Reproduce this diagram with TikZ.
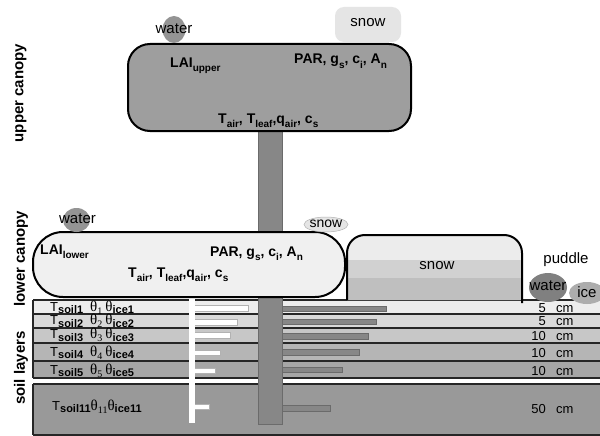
\documentclass[tikz,border=0pt]{standalone}
\usepackage{fontspec}
\setmainfont{Liberation Sans}
\newfontfamily\thfont{Liberation Serif}
\usetikzlibrary{shapes.geometric}
\newcommand{\dn}[1]{\raisebox{-0.3em}{\fontsize{10}{10}\selectfont #1}}
\newcommand{\sdn}[1]{\raisebox{-0.22em}{\bfseries\fontsize{11}{11}\selectfont #1}}
\newcommand{\thx}[1]{{\thfont\fontsize{15}{15}\selectfont θ\raisebox{-0.2em}{\fontsize{10}{10}\selectfont #1}}}
\newcommand{\thi}{{\thfont\fontsize{15}{15}\selectfont θ}}
\definecolor{upbox}{gray}{0.62}
\definecolor{lowbox}{gray}{0.94}
\definecolor{trunkc}{gray}{0.53}
\definecolor{trunkedge}{gray}{0.42}
\definecolor{waterc}{gray}{0.58}
\definecolor{snowc}{gray}{0.9}
\definecolor{snowtop}{gray}{0.925}
\definecolor{snowmid}{gray}{0.82}
\definecolor{snowbot}{gray}{0.75}
\definecolor{puddlew}{gray}{0.5}
\definecolor{icec}{gray}{0.68}
\definecolor{Lone}{gray}{0.93}
\definecolor{Ltwo}{gray}{0.85}
\definecolor{Lthree}{gray}{0.78}
\definecolor{Lfour}{gray}{0.71}
\definecolor{Lfive}{gray}{0.65}
\definecolor{Leleven}{gray}{0.6}
\begin{document}
\begin{tikzpicture}[x=1pt,y=-1pt,
  lbl/.style={font=\fontsize{15}{15}\selectfont, inner sep=0pt},
  blab/.style={font=\bfseries\fontsize{14}{14}\selectfont, inner sep=0pt, anchor=base west},
  soillab/.style={font=\fontsize{13}{13}\selectfont, inner sep=0pt, anchor=base west},
  depth/.style={font=\fontsize{13}{13}\selectfont, inner sep=0pt, anchor=base east},
  unit/.style={font=\fontsize{13}{13}\selectfont, inner sep=0pt, anchor=base west},
  side/.style={font=\bfseries\fontsize{15}{15}\selectfont, rotate=90, inner sep=0pt},
  blob/.style={ellipse, inner sep=0pt},
  rootbar/.style={fill=white, draw=gray!60, line width=0.6pt},
  trunkbar/.style={fill=trunkc, draw=trunkedge, line width=0.6pt},
  sep/.style={line width=2pt, draw=black!85}
]
\useasboundingbox (0,0) rectangle (600,436);
\fill[white] (0,0) rectangle (600,436);

% soil layers
\fill[Lone] (33,300) rectangle (600,314);
\fill[Ltwo] (33,314) rectangle (600,328);
\fill[Lthree] (33,328) rectangle (600,343);
\fill[Lfour] (33,343) rectangle (600,361);
\fill[Lfive] (33,361) rectangle (600,378);
\fill[Leleven] (33,384) rectangle (600,436);
\foreach \yy in {300,314,328,343,361,378,384,435}
  \draw[sep] (33,\yy) -- (600,\yy);
\draw[sep] (33,300) -- (33,378);
\draw[sep] (33,384) -- (33,435);

% root distribution
\draw[rootbar] (194,305) rectangle (248,311);
\draw[rootbar] (194,319) rectangle (237,325);
\draw[rootbar] (194,332) rectangle (230,338);
\draw[rootbar] (194,350) rectangle (220,355);
\draw[rootbar] (194,368) rectangle (215,373);
\draw[rootbar] (194,404) rectangle (209,409);
\fill[white] (189,297) rectangle (194.6,423);

% trunk
\draw[trunkbar] (258,131) rectangle (282,424);
\draw[trunkbar] (282,306) rectangle (386,311);
\draw[trunkbar] (282,319) rectangle (376,324);
\draw[trunkbar] (282,333) rectangle (368,339);
\draw[trunkbar] (282,349) rectangle (359,355);
\draw[trunkbar] (282,367) rectangle (342,372);
\draw[trunkbar] (282,405) rectangle (330,411);

% upper canopy
\draw[fill=upbox, line width=2pt, rounded corners=22pt] (128,44) rectangle (411,131);
\node[blob, fill=waterc, minimum width=23pt, minimum height=27pt] (wu) at (174,29.5) {};
\node[lbl] (wut) at (174,29) {water};
\node[fill=snowc, rounded corners=9pt, minimum width=66pt, minimum height=35pt, inner sep=0pt] (su) at (368,24.5) {};
\node[lbl] (sut) at (368,23) {snow};
\node[blab] (laiu) at (170,67) {LAI\dn{upper}};
\node[blab] (paru) at (294,64) {PAR, g\dn{s}, c\dn{i}, A\dn{n}};
\node[blab] (tu) at (218,123) {T\dn{air}, T\dn{leaf},q\dn{air}, c\dn{s}};

% lower canopy
\draw[fill=lowbox, line width=2pt, rounded corners=30pt] (33,232) rectangle (345,297);
\node[blob, fill=waterc, minimum width=27pt, minimum height=24pt] (wl) at (76.5,220) {};
\node[lbl] (wlt) at (77.5,219) {water};
\node[blob, fill=snowc, draw=gray!60, line width=0.5pt, minimum width=44pt, minimum height=15pt] (sl) at (326,224.5) {};
\node[lbl, font=\fontsize{14}{14}\selectfont] (slt) at (326,223.5) {snow};
\node[blab] (lail) at (40,254) {LAI\dn{lower}};
\node[blab] (parl) at (210,256) {PAR, g\dn{s}, c\dn{i}, A\dn{n}};
\node[blab] (tl) at (128,277) {T\dn{air}, T\dn{leaf},q\dn{air}, c\dn{s}};

% snow pack
\fill[snowtop] (347,300) -- (347,253) .. controls (347,243) and (355,235) .. (365,235)
  -- (504,235) .. controls (514,235) and (522,243) .. (522,253) -- (522,300) -- cycle;
\fill[snowmid] (347,260) rectangle (522,278);
\fill[snowbot] (347,278) rectangle (522,300);
\draw[line width=2pt] (347,300) -- (347,253) .. controls (347,243) and (355,235) .. (365,235)
  -- (504,235) .. controls (514,235) and (522,243) .. (522,253) -- (522,303);
\node[lbl] (spt) at (437,266) {snow};

% puddle
\node[lbl] (pud) at (566,260) {puddle};
\node[blob, fill=puddlew, minimum width=38pt, minimum height=29pt] (pw) at (548,287.5) {};
\node[blob, fill=icec, minimum width=36pt, minimum height=22pt] (pi) at (587,293) {};
\node[lbl] (pwt) at (548,286) {water};
\node[lbl] (pit) at (587,292) {ice};

% soil labels
\node[soillab] (s1) at (50,311) {T\sdn{soil1}\hspace{7pt}\thx{1}\hspace{3pt}\thi\sdn{ice1}};
\node[soillab] (s2) at (50,324.5) {T\sdn{soil2}\hspace{7pt}\thx{2}\hspace{3pt}\thi\sdn{ice2}};
\node[soillab] (s3) at (50,338.5) {T\sdn{soil3}\hspace{7pt}\thx{3}\hspace{3pt}\thi\sdn{ice3}};
\node[soillab] (s4) at (50,356) {T\sdn{soil4}\hspace{7pt}\thx{4}\hspace{3pt}\thi\sdn{ice4}};
\node[soillab] (s5) at (50,374) {T\sdn{soil5}\hspace{7pt}\thx{5}\hspace{3pt}\thi\sdn{ice5}};
\node[soillab] (s11) at (52,410) {T\sdn{soil11}\thx{11}\thi\sdn{ice11}};

% depths
\node[depth] (d1) at (546,312) {5};   \node[unit] (u1) at (556,312) {cm};
\node[depth] (d2) at (546,325.5) {5}; \node[unit] (u2) at (556,325.5) {cm};
\node[depth] (d3) at (546,340) {10};  \node[unit] (u3) at (556,340) {cm};
\node[depth] (d4) at (546,357.5) {10};\node[unit] (u4) at (556,357.5) {cm};
\node[depth] (d5) at (546,375) {10};  \node[unit] (u5) at (556,375) {cm};
\node[depth] (d11) at (546,413) {50}; \node[unit] (u11) at (556,413) {cm};

% side labels
\node[side] (sideu) at (21,93) {upper canopy};
\node[side] (sidel) at (21,259) {lower canopy};
\node[side] (sides) at (21,368) {soil layers};
\end{tikzpicture}
\end{document}
